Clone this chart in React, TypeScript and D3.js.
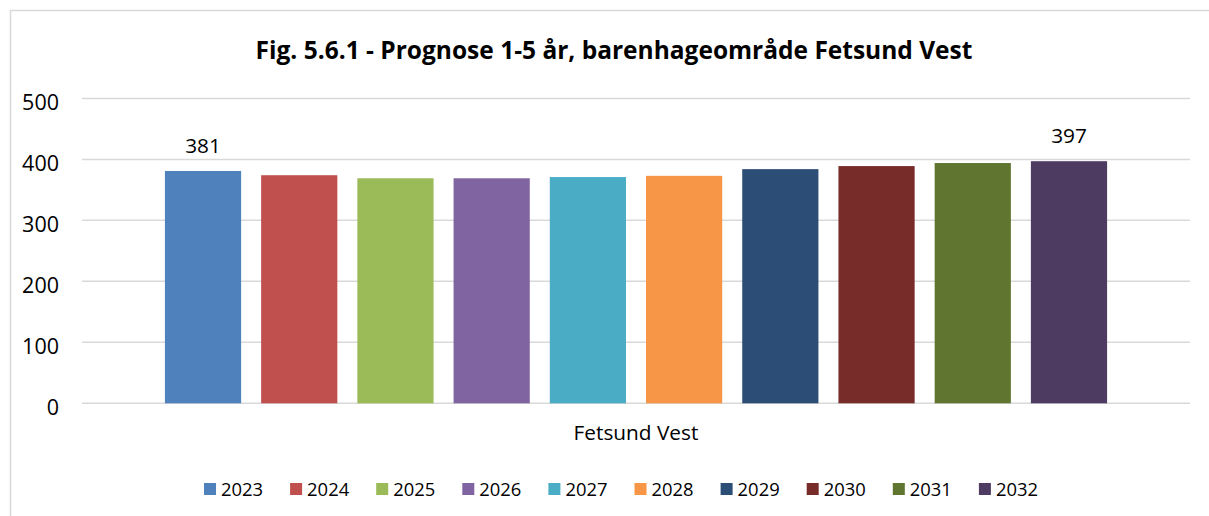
import React from "react";
import * as d3 from "d3";

const title = "Fig. 5.6.1 - Prognose 1-5 år, barenhageområde Fetsund Vest";
const categories = ["Fetsund Vest"];
const years = ["2023", "2024", "2025", "2026", "2027", "2028", "2029", "2030", "2031", "2032"];
const values = [381, 374, 369, 369, 371, 373, 384, 389, 394, 397];
const labeledYears = ["2023", "2032"];
const colors = ["#4F81BD", "#C0504D", "#9BBB59", "#8064A2", "#4BACC6", "#F79646", "#2C4D75", "#772C2A", "#5F7530", "#4D3B62"];
const yTicks = [0, 100, 200, 300, 400, 500];

const W = 1209;
const H = 516;
const FONT = "'Open Sans', sans-serif";

export default function App() {
  const plotLeft = 82;
  const plotRight = 1190;
  const y = d3.scaleLinear().domain([0, 500]).range([403.3, 98.4]);
  const x0 = d3.scaleBand<string>().domain(categories).range([plotLeft, plotRight]).paddingInner(0).paddingOuter(0.088);
  const x1 = d3.scaleBand<string>().domain(years).range([0, x0.bandwidth()]).paddingInner(0.208).paddingOuter(0);
  const legendStep = 86.1;
  const legendX0 = 204;
  const legendY = 483;

  return (
    <svg width={W} height={H} style={{ position: "absolute", left: 0, top: 0, background: "#fff" }} fontFamily={FONT}>
      <rect x={10.5} y={10.5} width={1400} height={700} fill="#fff" stroke="#d9d9d9" strokeWidth={1.5} />
      <text x={614} y={59} textAnchor="middle" fontSize={24.5} fontWeight="bold" fill="#000">{title}</text>
      {yTicks.map((t) => (
        <g key={t}>
          <line x1={plotLeft} x2={plotRight} y1={y(t)} y2={y(t)} stroke="#d9d9d9" strokeWidth={1.5} />
          <text x={59} y={y(t) + 11.6} textAnchor="end" fontSize={21.5} fill="#000">{t}</text>
        </g>
      ))}
      {categories.map((c) => (
        <g key={c} transform={`translate(${x0(c)},0)`}>
          {years.map((yr, i) => (
            <rect key={yr} x={x1(yr)} y={y(values[i])} width={x1.bandwidth()} height={y(0) - y(values[i])} fill={colors[i]} />
          ))}
          {years.map((yr, i) =>
            labeledYears.includes(yr) ? (
              <text key={"l" + yr} x={(x1(yr) as number) + x1.bandwidth() / 2} y={y(values[i]) - 18} textAnchor="middle" fontSize={20.8} fill="#000">
                {values[i]}
              </text>
            ) : null
          )}
          <text x={x0.bandwidth() / 2} y={440} textAnchor="middle" fontSize={20.8} fill="#000">{c}</text>
        </g>
      ))}
      {years.map((yr, i) => (
        <g key={"lg" + yr} transform={`translate(${legendX0 + i * legendStep},${legendY})`}>
          <rect x={0} y={0} width={12} height={12} fill={colors[i]} />
          <text x={17} y={12.5} fontSize={18.4} fill="#000">{yr}</text>
        </g>
      ))}
    </svg>
  );
}
